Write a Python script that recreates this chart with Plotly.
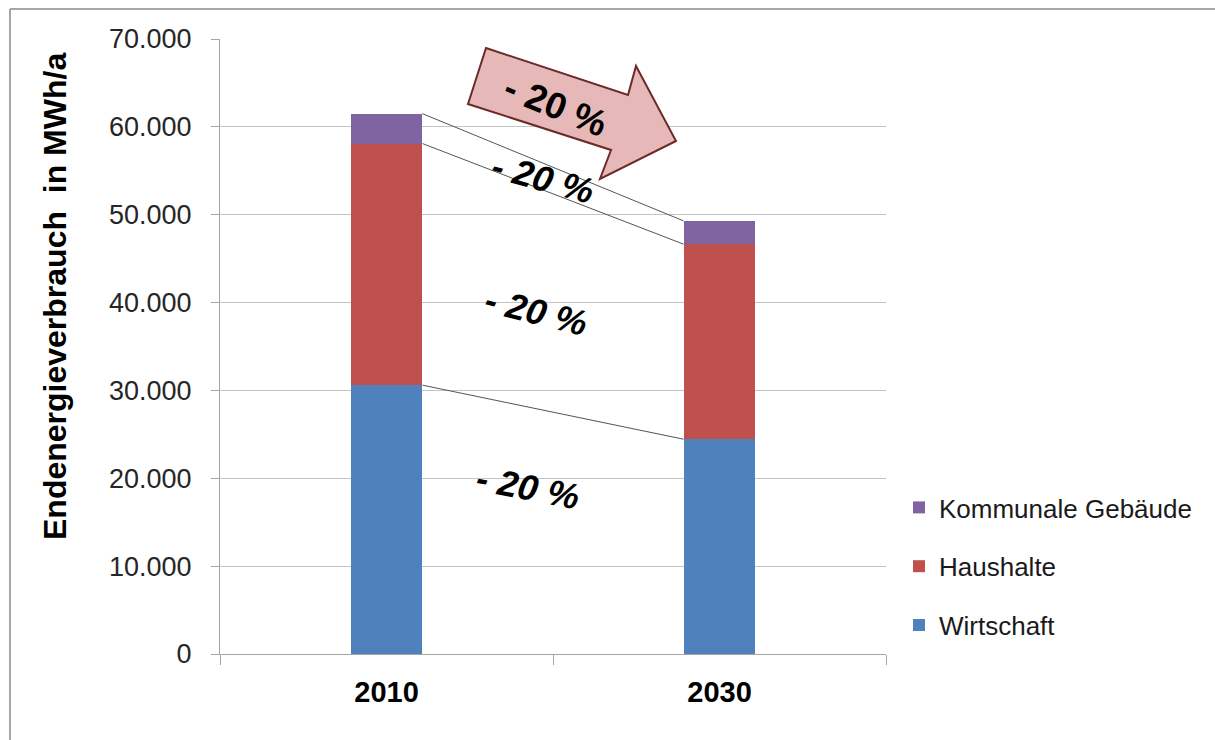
import plotly.graph_objects as go

# ---- data ----
years = ["2010", "2030"]
wirtschaft = [30600, 24450]
haushalte = [27500, 22200]
kommunale = [3400, 2650]
series_names = ["Wirtschaft", "Haushalte", "Kommunale Gebäude"]
series_colors = ["#4f81bd", "#c0504d", "#8064a2"]
y_ticks = [0, 10000, 20000, 30000, 40000, 50000, 60000, 70000]
change_label = "- 20 %"

W, H = 1215, 740
X0, X1 = 220, 886      # plot area left/right (px)
YT, YB = 39, 654       # plot area top/bottom (px)
BAR_W = 0.216
FONT = "Liberation Sans, Arial, sans-serif"


def px(x):
    return (x - X0) / (X1 - X0)


def py(y):
    return (YB - y) / (YB - YT)


fig = go.Figure()
for i, (name, vals, col) in enumerate(zip(series_names, [wirtschaft, haushalte, kommunale], series_colors)):
    fig.add_trace(go.Bar(
        x=years, y=vals, name=name, marker=dict(color=col, line=dict(width=0)),
        width=BAR_W, legendgroup=name, legendrank=3 - i,
    ))

# connector lines between bar tops
tops_2010 = [wirtschaft[0], wirtschaft[0] + haushalte[0], wirtschaft[0] + haushalte[0] + kommunale[0]]
tops_2030 = [wirtschaft[1], wirtschaft[1] + haushalte[1], wirtschaft[1] + haushalte[1] + kommunale[1]]
shapes = []
for a, b in zip(tops_2010, tops_2030):
    shapes.append(dict(type="line", xref="x", yref="y", x0=0 + BAR_W / 2, x1=1 - BAR_W / 2,
                       y0=a, y1=b, line=dict(color="#555555", width=1)))

# block arrow (decoration)
arrow_px = [(486, 48), (628, 95), (636, 66), (676, 141), (600, 179), (611, 150), (468, 104)]
path = "M " + " L ".join(f"{px(x):.5f},{py(y):.5f}" for x, y in arrow_px) + " Z"
shapes.append(dict(type="path", xref="paper", yref="paper", path=path,
                   fillcolor="#e6b9b8", line=dict(color="#6b2a28", width=2), layer="above"))

# outer frame (left and top edges)
shapes.append(dict(type="line", xref="paper", yref="paper", x0=px(10), x1=px(10), y0=py(9), y1=py(740),
                   line=dict(color="#a6a6a6", width=2)))
shapes.append(dict(type="line", xref="paper", yref="paper", x0=px(10), x1=px(1215), y0=py(9), y1=py(9),
                   line=dict(color="#a6a6a6", width=2)))

annotations = []
# y-axis title
annotations.append(dict(text="<b>Endenergieverbrauch\u00a0 in MWh/a</b>", xref="paper", yref="paper",
                        x=px(55), y=py(297), showarrow=False, textangle=-90,
                        font=dict(family=FONT, size=32, color="#000000"),
                        xanchor="center", yanchor="middle"))
# percentage label on the arrow
annotations.append(dict(text=f"<b>{change_label}</b>", xref="paper", yref="paper",
                        x=px(555), y=py(106), showarrow=False, textangle=22,
                        font=dict(family=FONT, size=37, color="#000000"),
                        xanchor="center", yanchor="middle"))
# percentage labels between the bars
for (cx, cy, ang) in [(543, 178, 15), (536, 312, 14), (528, 487, 11)]:
    annotations.append(dict(text=f"<b><i>{change_label}</i></b>", xref="paper", yref="paper",
                            x=px(cx), y=py(cy), showarrow=False, textangle=ang,
                            font=dict(family=FONT, size=36, color="#000000"),
                            xanchor="center", yanchor="middle"))

fig.update_layout(
    width=W, height=H,
    margin=dict(l=X0, r=W - X1, t=YT, b=H - YB, pad=0),
    paper_bgcolor="white", plot_bgcolor="white",
    barmode="stack", bargap=0,
    separators=",.",
    font=dict(family=FONT, color="#262626"),
    showlegend=True,
    legend=dict(
        x=px(899), y=py(484), xanchor="left", yanchor="top",
        font=dict(family=FONT, size=26, color="#1a1a1a"),
        traceorder="grouped+reversed", tracegroupgap=22, itemwidth=30,
        bgcolor="rgba(0,0,0,0)",
    ),
    shapes=shapes,
    annotations=annotations,
)

fig.update_xaxes(
    type="category", range=[-0.5, 1.5],
    showline=True, linecolor="#a6a6a6", linewidth=1,
    ticks="outside", tickson="boundaries", ticklen=10, tickcolor="#a6a6a6",
    showgrid=False, tickfont=dict(family=FONT, size=29, color="#000000"),
    tickprefix="<b>", ticksuffix="</b>", ticklabelstandoff=12,
)
fig.update_yaxes(
    range=[0, 70000], tickvals=y_ticks, tickformat=",d",
    showline=True, linecolor="#a6a6a6", linewidth=1,
    ticks="outside", ticklen=8, tickcolor="#a6a6a6",
    showgrid=True, gridcolor="#c4c4c4", gridwidth=1, zeroline=False,
    tickfont=dict(family=FONT, size=27, color="#262626"),
    ticklabelstandoff=14,
)

fig.write_html("out.html")
